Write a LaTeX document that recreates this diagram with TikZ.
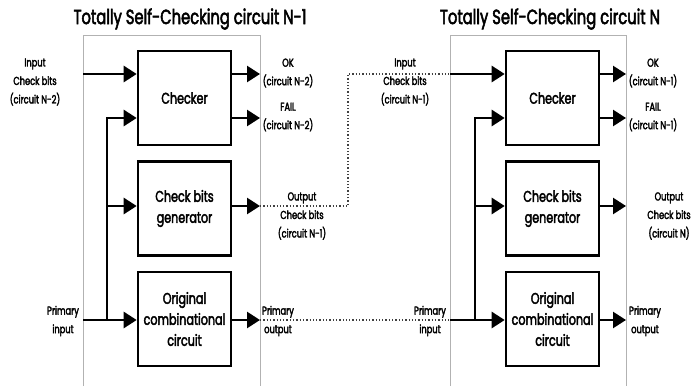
\documentclass[tikz,border=0pt]{standalone}
\usepackage{fontspec}
\setmainfont{Poppins}[FakeStretch=0.72, FakeBold=2.5]
\usetikzlibrary{arrows.meta}
\begin{document}
\begin{tikzpicture}[x=1pt,y=-1pt,
  box/.style={draw, line width=2.6pt, minimum width=93pt, minimum height=94pt, inner sep=0pt, align=center, font=\fontsize{15.5}{21}\selectfont},
  lbl/.style={align=center, inner sep=0pt, font=\fontsize{11.5}{18.5}\selectfont},
  ttl/.style={inner sep=0pt, font=\fontsize{20.5}{24}\selectfont},
  arr/.style={line width=2.6pt, -{Triangle[length=13pt,width=16pt]}},
  wire/.style={line width=2.6pt},
  panel/.style={draw=black!30, line width=0.8pt},
  dotw/.style={dotted, line width=1.3pt, draw=black!75}]
\useasboundingbox (0,0) rectangle (694,386);
% panels
\draw[panel] (83,386) -- (83,35) -- (260,35) -- (260,386);
\draw[panel] (450,386) -- (450,35) -- (626,35) -- (626,386);
% titles
\node[ttl] (t1) at (190,19) {Totally Self-Checking circuit N-1};
\node[ttl] (t2) at (550,19) {Totally Self-Checking circuit N};
% boxes
\node[box] (chkA) at (184.5,98) {Checker};
\node[box] (genA) at (184.5,208.5) {Check bits\\generator};
\node[box] (orgA) at (184.5,319) {Original\\combinational\\circuit};
\node[box] (chkB) at (552.5,98) {Checker};
\node[box] (genB) at (552.5,208.5) {Check bits\\generator};
\node[box] (orgB) at (552.5,319) {Original\\combinational\\circuit};
% labels
\node[lbl] (lInA) at (35,82) {Input\\Check bits\\(circuit N-2)};
\node[lbl] (lOkA) at (288,73) {OK\\(circuit N-2)};
\node[lbl] (lFailA) at (288,117) {FAIL\\(circuit N-2)};
\node[lbl] (lOutA) at (302,216) {Output\\Check bits\\(circuit N-1)};
\node[lbl] (lPinA) at (63,321) {Primary\\input};
\node[lbl] (lPoutA) at (278,321) {Primary\\output};
\node[lbl] (lInB) at (405,82) {Input\\Check bits\\(circuit N-1)};
\node[lbl] (lOkB) at (653,73) {OK\\(circuit N-1)};
\node[lbl] (lFailB) at (653,117) {FAIL\\(circuit N-1)};
\node[lbl] (lOutB) at (669,216) {Output\\Check bits\\(circuit N)};
\node[lbl] (lPinB) at (430,321) {Primary\\input};
\node[lbl] (lPoutB) at (645,321) {Primary\\output};
% coordinates
\coordinate (inA) at (83,74);
\coordinate (busA) at (107,118);
\coordinate (busgA) at (107,206);
\coordinate (pinA) at (83,320);
\coordinate (okA) at (260,74);
\coordinate (failA) at (260,118);
\coordinate (outA) at (260,206);
\coordinate (poutA) at (260,320);
\coordinate (inB) at (450,74);
\coordinate (busB) at (475,118);
\coordinate (busgB) at (475,206);
\coordinate (pinB) at (450,320);
\coordinate (okB) at (626,74);
\coordinate (failB) at (626,118);
\coordinate (outB) at (626,206);
\coordinate (poutB) at (626,320);
\coordinate (jog) at (348,206);
% left circuit wires
\draw[arr] (inA) -- (inA -| chkA.west);
\draw[arr] (busA |- pinA) -- (busA) -- (busA -| chkA.west);
\draw[arr] (busgA) -- (busgA -| genA.west);
\draw[arr] (pinA) -- (pinA -| orgA.west);
\draw[arr] (okA -| chkA.east) -- (okA);
\draw[arr] (failA -| chkA.east) -- (failA);
\draw[arr] (outA -| genA.east) -- (outA);
\draw[arr] (poutA -| orgA.east) -- (poutA);
% right circuit wires
\draw[arr] (inB) -- (inB -| chkB.west);
\draw[arr] (busB |- pinB) -- (busB) -- (busB -| chkB.west);
\draw[arr] (busgB) -- (busgB -| genB.west);
\draw[arr] (pinB) -- (pinB -| orgB.west);
\draw[arr] (okB -| chkB.east) -- (okB);
\draw[arr] (failB -| chkB.east) -- (failB);
\draw[arr] (outB -| genB.east) -- (outB);
\draw[arr] (poutB -| orgB.east) -- (poutB);
% dotted links
\draw[dotw] (outA) -- (jog) -- (jog |- inB) -- (inB);
\draw[dotw] (poutA) -- (pinB);
\end{tikzpicture}
\end{document}
